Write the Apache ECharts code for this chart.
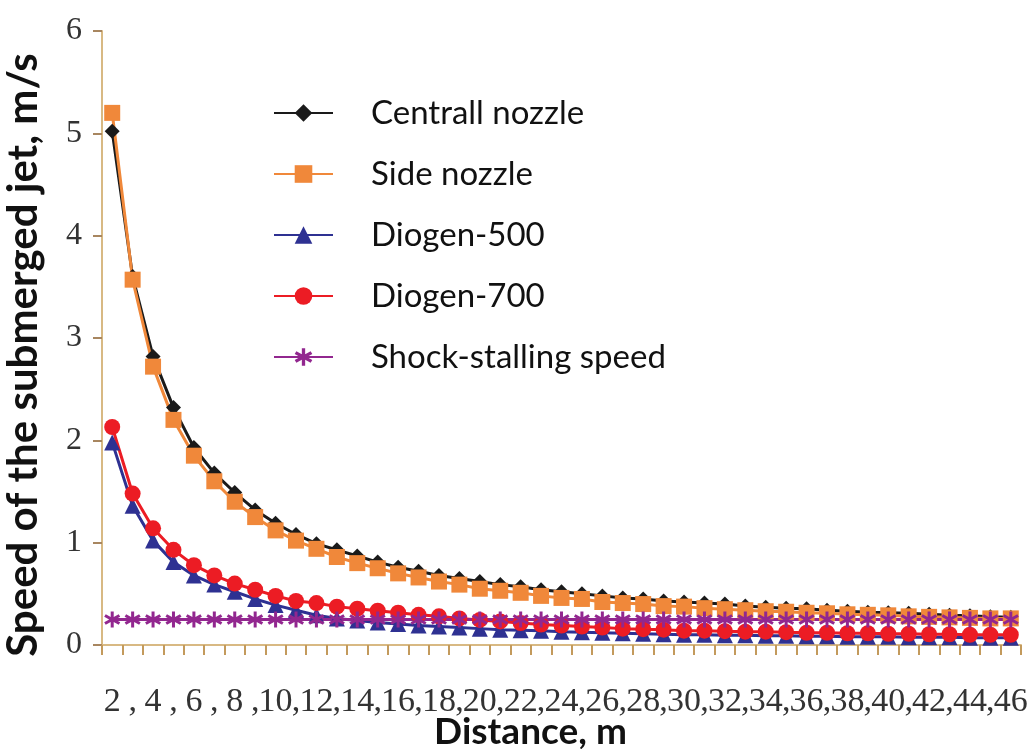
<!DOCTYPE html>
<html>
<head>
<meta charset="utf-8">
<script src="https://cdn.jsdelivr.net/npm/echarts@6/dist/echarts.min.js"></script>
<style>
html,body{margin:0;padding:0;background:#fff;}
#chart{width:1035px;height:749px;}
</style>
</head>
<body>
<div id="chart"></div>
<script>
// distance, m (categories)
var distances = [2,3,4,5,6,7,8,9,10,11,12,13,14,15,16,17,18,19,20,21,22,23,24,25,26,27,28,29,30,31,32,33,34,35,36,37,38,39,40,41,42,43,44,45,46];

var centralNozzle = [5.02,3.60,2.82,2.32,1.93,1.68,1.49,1.32,1.19,1.08,0.99,0.93,0.87,0.81,0.76,0.72,0.68,0.65,0.62,0.59,0.57,0.54,0.52,0.50,0.48,0.46,0.45,0.43,0.42,0.41,0.40,0.38,0.37,0.36,0.355,0.34,0.33,0.32,0.315,0.31,0.30,0.29,0.285,0.275,0.27];
var sideNozzle = [5.2,3.57,2.72,2.20,1.85,1.60,1.40,1.25,1.12,1.02,0.94,0.86,0.80,0.75,0.70,0.66,0.62,0.59,0.55,0.53,0.51,0.48,0.46,0.45,0.42,0.41,0.40,0.38,0.375,0.36,0.35,0.34,0.33,0.325,0.315,0.31,0.30,0.295,0.29,0.28,0.275,0.27,0.265,0.26,0.26];
var diogen500 = [1.98,1.36,1.02,0.81,0.68,0.59,0.52,0.45,0.39,0.34,0.29,0.26,0.24,0.22,0.205,0.19,0.18,0.17,0.16,0.15,0.145,0.14,0.13,0.125,0.12,0.115,0.11,0.105,0.10,0.10,0.095,0.095,0.09,0.09,0.085,0.085,0.08,0.08,0.08,0.075,0.075,0.075,0.07,0.07,0.07];
var diogen700 = [2.13,1.48,1.14,0.93,0.78,0.68,0.60,0.54,0.48,0.43,0.41,0.375,0.355,0.335,0.315,0.295,0.28,0.26,0.245,0.23,0.215,0.20,0.19,0.18,0.17,0.16,0.155,0.15,0.14,0.14,0.135,0.13,0.13,0.125,0.12,0.12,0.115,0.115,0.11,0.11,0.105,0.105,0.10,0.10,0.10];
var shockStalling = [0.25,0.25,0.25,0.25,0.25,0.25,0.25,0.25,0.25,0.25,0.25,0.25,0.25,0.25,0.25,0.25,0.25,0.25,0.25,0.25,0.25,0.25,0.25,0.25,0.25,0.25,0.25,0.25,0.25,0.25,0.25,0.25,0.25,0.25,0.25,0.25,0.25,0.25,0.25,0.25,0.25,0.25,0.25,0.25,0.25];

var seriesNames = ['Centrall nozzle','Side nozzle','Diogen-500','Diogen-700','Shock-stalling speed'];

// asterisk marker
var starPath = 'path://M-1.8,10L1.8,10L1.8,-10L-1.8,-10Z M7.76,6.56L9.56,3.44L-7.76,-6.56L-9.56,-3.44Z M-9.56,3.44L-7.76,6.56L9.56,-3.44L7.76,-6.56Z';

var chart = echarts.init(document.getElementById('chart'));

function mkSeries(name, data, color, symbol, size){
	return {
		name: name,
		type: 'line',
		data: data,
		symbol: symbol,
		symbolSize: size,
		showAllSymbol: true,
		lineStyle: { color: color, width: 3 },
		itemStyle: { color: color },
		emphasis: { disabled: true }
	};
}

var option = {
	animation: false,
	backgroundColor: '#fff',
	grid: { left: 102, right: 14, top: 31, bottom: 104, outerBoundsMode: 'none', containLabel: false },
	legend: {
		orient: 'vertical',
		left: 273,
		top: 95,
		padding: 0,
		itemGap: 25,
		itemWidth: 59,
		itemHeight: 22,
		data: seriesNames,
		textStyle: {
			fontFamily: 'Lato',
			fontSize: 33,
			color: '#111',
			lineHeight: 36,
			padding: [0, 0, 0, 33]
		}
	},
	xAxis: {
		type: 'category',
		data: distances,
		boundaryGap: true,
		name: 'Distance, m',
		nameLocation: 'middle',
		nameGap: 69,
		nameMoveOverlap: false,
		nameTextStyle: {
			fontFamily: 'Lato',
			fontWeight: 'bold',
			fontSize: 37,
			color: '#111',
			padding: [0, 62, 0, 0]
		},
		axisLine: { lineStyle: { color: '#d8b983', width: 2 } },
		axisTick: { show: true, interval: 0, length: 10, lineStyle: { color: '#c39a5c', width: 2 } },
		axisLabel: {
			interval: 0,
			margin: 30,
			padding: [10, 0, 0, 0],
			fontFamily: 'Liberation Serif',
			fontSize: 34,
			color: '#333',
			formatter: function(v, i){ return i % 2 === 0 ? String(v) : ','; }
		},
		splitLine: { show: false }
	},
	yAxis: {
		type: 'value',
		min: 0,
		max: 6,
		interval: 1,
		name: 'Speed of the submerged jet, m/s',
		nameLocation: 'middle',
		nameGap: 58,
		nameTextStyle: {
			fontFamily: 'Lato',
			fontWeight: 'bold',
			fontSize: 42,
			color: '#111',
			padding: [0, 34, 0, 0]
		},
		axisLine: { show: true, lineStyle: { color: '#d8b983', width: 2 } },
		axisTick: { show: true, length: 9, lineStyle: { color: '#a88660', width: 2 } },
		axisLabel: {
			margin: 20,
			fontFamily: 'Liberation Serif',
			fontSize: 32,
			color: '#333'
		},
		splitLine: { show: false }
	},
	series: [
		mkSeries(seriesNames[0], centralNozzle, '#1a1a1a', 'diamond', 15),
		mkSeries(seriesNames[1], sideNozzle, '#f0883a', 'rect', 16),
		mkSeries(seriesNames[2], diogen500, '#2e3192', 'triangle', 16),
		mkSeries(seriesNames[3], diogen700, '#ec1c24', 'circle', 16),
		mkSeries(seriesNames[4], shockStalling, '#92278f', starPath, 16)
	]
};

chart.setOption(option);
</script>
</body>
</html>
